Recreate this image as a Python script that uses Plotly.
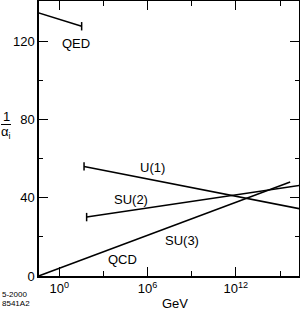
import plotly.graph_objects as go

# Data (energy in GeV, inverse couplings)
qed_energy = [0.04, 33]
qed_inv_alpha = [134.4, 127.6]
u1_energy = [48, 2e16]
u1_inv_alpha = [56.0, 34.4]
su2_energy = [72, 2e16]
su2_inv_alpha = [30.1, 46.2]
su3_energy = [0.04, 4.9e15]
su3_inv_alpha = [0.0, 48.0]

x_tickvals = [1, 1e6, 1e12]
x_ticktext = ["10<sup>0</sup>", "10<sup>6</sup>", "10<sup>12</sup>"]
x_minor = [1e3, 1e9, 1e15]
y_tickvals = [0, 40, 80, 120]
y_minor = [20, 60, 100]

W, H = 300, 312
L, R, T, B = 39, 1, 1, 36
PW, PH = W - L - R, H - T - B

def px(x):
    return (x - L) / PW

def py(y):
    return (H - B - y) / PH

FONT = "Liberation Sans, Arial, Helvetica, sans-serif"
line_style = dict(color="black", width=1.5)

fig = go.Figure()
fig.add_trace(go.Scatter(x=qed_energy, y=qed_inv_alpha, mode="lines", line=line_style, showlegend=False))
fig.add_trace(go.Scatter(x=u1_energy, y=u1_inv_alpha, mode="lines", line=line_style, showlegend=False))
fig.add_trace(go.Scatter(x=su2_energy, y=su2_inv_alpha, mode="lines", line=line_style, showlegend=False))
fig.add_trace(go.Scatter(x=su3_energy, y=su3_inv_alpha, mode="lines", line=line_style, showlegend=False))
# end caps
fig.add_trace(go.Scatter(
    x=[qed_energy[-1], u1_energy[0], su2_energy[0]],
    y=[qed_inv_alpha[-1], u1_inv_alpha[0], su2_inv_alpha[0]],
    mode="markers",
    marker=dict(symbol="line-ns", size=6, line=dict(color="black", width=1.5)),
    showlegend=False, cliponaxis=False, hoverinfo="skip"))

axis_common = dict(
    showgrid=False, zeroline=False, showline=True, linecolor="black", linewidth=1.5,
    mirror="ticks", ticks="inside", ticklen=9, tickwidth=1, tickcolor="black",
    tickfont=dict(family=FONT, size=13, color="black"), automargin=False,
)

fig.update_xaxes(type="log", range=[-1.38, 16.29], tickmode="array",
                 tickvals=x_tickvals, ticktext=x_ticktext,
                 minor=dict(tickmode="array", tickvals=x_minor, ticks="inside", ticklen=5,
                            tickcolor="black", tickwidth=1),
                 **axis_common)
fig.update_yaxes(range=[0, 140.5], tickmode="array", tickvals=y_tickvals,
                 minor=dict(tickmode="array", tickvals=y_minor, ticks="inside", ticklen=4,
                            tickcolor="black", tickwidth=1),
                 **axis_common)

def label(text, x, y, size=13, xanchor="center"):
    fig.add_annotation(text=text, x=px(x), y=py(y), xref="paper", yref="paper",
                       showarrow=False, xanchor=xanchor, yanchor="middle",
                       font=dict(family=FONT, size=size, color="black"))

label("QED", 75.5, 43.5)
label("U(1)", 152, 167)
label("SU(2)", 131, 199)
label("SU(3)", 182, 240)
label("QCD", 122, 259)
label("GeV", 175, 303)
label("1", 6, 116)
label("α<sub>i</sub>", 6, 132)
label("5-2000", 0, 294, size=8, xanchor="left")
label("8541A2", 0, 303, size=8, xanchor="left")
fig.add_shape(type="line", xref="paper", yref="paper", x0=px(1), x1=px(11), y0=py(124.5), y1=py(124.5),
              line=dict(color="black", width=1))

fig.update_layout(width=W, height=H, margin=dict(l=L, r=R, t=T, b=B, autoexpand=False),
                  paper_bgcolor="white", plot_bgcolor="white", hovermode=False,
                  font=dict(family=FONT, color="black"))

fig.write_html("out.html", config={"displayModeBar": False},
               post_script="document.body.style.margin='0';document.body.style.overflow='hidden';")
